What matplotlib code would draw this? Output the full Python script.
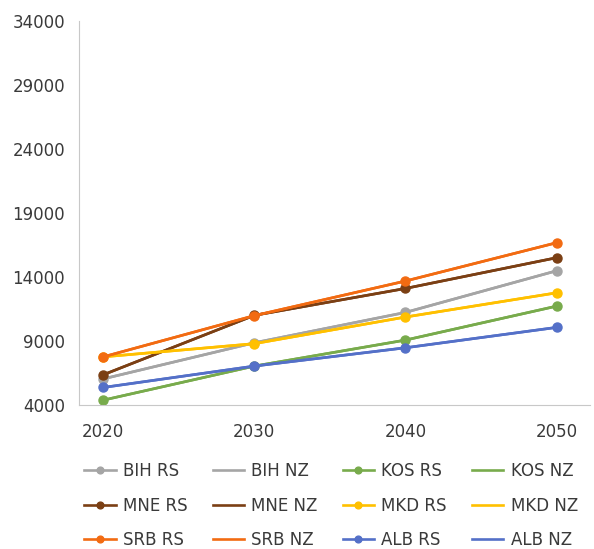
import matplotlib
matplotlib.use("Agg")
import matplotlib.pyplot as plt

plt.rcParams['font.family'] = ['DejaVu Sans']

years = [2020, 2030, 2040, 2050]
countries = ["BIH", "KOS", "MNE", "MKD", "SRB", "ALB"]
colors = {"BIH": "#A5A5A5", "KOS": "#78AB4C", "MNE": "#7B3F14",
          "MKD": "#FFC000", "SRB": "#F26B12", "ALB": "#5470C8"}

# RS scenario values (NZ drawn on the same values, hidden under RS)
bih_rs = [6050, 8870, 11240, 14490]
kos_rs = [4390, 7050, 9080, 11730]
mne_rs = [6370, 11010, 13110, 15510]
mkd_rs = [7770, 8800, 10880, 12770]
srb_rs = [7770, 10990, 13690, 16680]
alb_rs = [5380, 7050, 8480, 10070]

bih_nz = [6050, 8870, 11240, 14490]
kos_nz = [4390, 7050, 9080, 11730]
mne_nz = [6370, 11010, 13110, 15510]
mkd_nz = [7770, 8800, 10880, 12770]
srb_nz = [7770, 10990, 13690, 16680]
alb_nz = [5380, 7050, 8480, 10070]

rs = dict(zip(countries, [bih_rs, kos_rs, mne_rs, mkd_rs, srb_rs, alb_rs]))
nz = dict(zip(countries, [bih_nz, kos_nz, mne_nz, mkd_nz, srb_nz, alb_nz]))

fig = plt.figure(figsize=(5.94, 5.49), dpi=100)
ax = fig.add_axes([0.133, 0.262, 0.860, 0.700])

handles = []
for c in countries:
    h1, = ax.plot(years, rs[c], color=colors[c], lw=1.9, marker='o', ms=6.5,
                  label=c + " RS")
    h2, = ax.plot(years, nz[c], color=colors[c], lw=1.9, label=c + " NZ")
    handles += [h1, h2]

ax.set_xlim(2018.4, 2052.2)
ax.set_ylim(4000, 34000)
ax.set_yticks(range(4000, 34001, 5000))
ax.set_xticks(years)
for s in ["top", "right"]:
    ax.spines[s].set_visible(False)
for s in ["left", "bottom"]:
    ax.spines[s].set_color("#C8C8C8")
ax.tick_params(length=0, labelsize=12, colors="#3A3A3A")
ax.tick_params(axis='y', pad=10)
ax.tick_params(axis='x', pad=13)

# legend in row-major order
order = [i for j in range(4) for i in (j, j + 4, j + 8)]
fig.legend([handles[i] for i in order],
           [handles[i].get_label() for i in order],
           ncol=4, loc='upper left', bbox_to_anchor=(0.117, 0.186),
           frameon=False, fontsize=12, handlelength=1.87, markerscale=0.75,
           columnspacing=1.5, labelspacing=1.0, handletextpad=0.45,
           labelcolor="#3A3A3A")

fig.savefig("out.png", dpi=100)
